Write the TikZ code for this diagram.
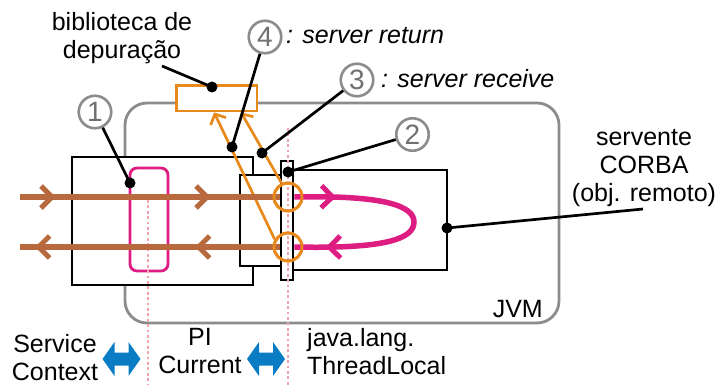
\documentclass[tikz,border=0pt]{standalone}
\usepackage{fontspec}
\setmainfont{Liberation Sans}
\usetikzlibrary{arrows.meta,decorations.markings,calc}

\definecolor{flowbrown}{HTML}{B86A3E}
\definecolor{loopmag}{HTML}{DE1D82}
\definecolor{hookorange}{HTML}{E8891C}
\definecolor{jvmgray}{HTML}{8C8C8C}
\definecolor{numgray}{HTML}{707070}
\definecolor{dotpink}{HTML}{F2A3AE}
\definecolor{ctxblue}{HTML}{0A7CC4}

\tikzset{
  blackbox/.style={draw=black, line width=2.8pt, fill=white, inner sep=0pt},
  flow/.style={draw=flowbrown, line width=6pt},
  loopline/.style={draw=loopmag, line width=5.5pt},
  hookcirc/.style={circle, draw=hookorange, line width=2.8pt, minimum size=28pt, inner sep=0pt},
  hookarrow/.style={draw=hookorange, line width=2.7pt, -{Straight Barb[length=8pt, width=17pt, line width=2.7pt]}},
  pidot/.style={draw=dotpink, line width=2.8pt, dash pattern=on 2.8pt off 2.6pt},
  leader/.style={draw=black, line width=2.7pt},
  numcirc/.style={circle, draw=jvmgray, line width=2.6pt, fill=white, text=numgray,
                  minimum size=32.5pt, inner sep=0pt, font=\fontsize{28}{30}\selectfont},
  label/.style={inner sep=0pt, align=center},
  chev/.pic={
    \draw[line width=5pt, line cap=butt, miter limit=4, pic actions] (-11,-11) -- (0,0) -- (-11,11);
  },
  dblarrow/.pic={
    \fill[ctxblue] (-19,0) -- (-7,-17) -- (-7,-6.5) -- (7,-6.5) -- (7,-17)
      -- (19,0) -- (7,17) -- (7,6.5) -- (-7,6.5) -- (-7,17) -- cycle;
  }
}

\begin{document}
\begin{tikzpicture}[x=1pt, y=-1pt, font=\fontsize{25}{28}\selectfont]
\useasboundingbox (0,0) rectangle (719,385);

% JVM boundary
\draw[jvmgray, line width=2.8pt, rounded corners=22pt] (125,103) rectangle (559,323);
\node[anchor=base east, inner sep=0pt] (jvm) at (543,317) {JVM};

% debugging library
\node[draw=hookorange, line width=2.8pt, fill=white, minimum width=80.5pt,
      minimum height=25.5pt, inner sep=0pt] (lib) at (216.75,98.25) {};

% client side, stub and servant boxes
\node[blackbox, minimum width=181pt, minimum height=128pt] (cli) at (162.5,221) {};
\node[blackbox, minimum width=47pt, minimum height=91pt] (stub) at (263.5,220.5) {};
\node[blackbox, minimum width=160pt, minimum height=100pt] (srv) at (367,220) {};
\node[blackbox, minimum width=12pt, minimum height=119pt] (tl) at (287,220.5) {};

% service context holder
\draw[loopmag, line width=2.8pt, rounded corners=7pt] (130,168) rectangle (168,271);

% thread boundaries
\draw[pidot] (148,200) -- (148,385);
\draw[pidot] (288,128) -- (288,385);

% interception points
\node[hookcirc] (oc1) at (288,197) {};
\node[hookcirc] (oc2) at (288,247) {};

% interceptor calls into the library
\draw[hookarrow] (oc2.150) -- ([xshift=39pt]lib.south west);
\draw[hookarrow] (oc1.115) -- ([xshift=66pt]lib.south west);

% request and reply flows
\coordinate (inL) at (20,197);
\coordinate (outL) at (20,247);
\draw[flow, postaction={decorate, decoration={markings,
      mark=at position 32pt with {\pic[flowbrown, transform shape]{chev};},
      mark=at position 187pt with {\pic[flowbrown, transform shape]{chev};}}}]
  (inL) -- (inL -| tl.west);
\draw[flow, postaction={decorate, decoration={markings,
      mark=at position 81pt with {\pic[flowbrown, transform shape]{chev};},
      mark=at position 241pt with {\pic[flowbrown, transform shape]{chev};}}}]
  (outL -| tl.west) -- (outL);

% servant invocation loop
\draw[loopline, postaction={decorate, decoration={markings,
      mark=at position 38pt with {\pic[loopmag, transform shape]{chev};},
      mark=at position -35pt with {\pic[loopmag, transform shape]{chev};}}}]
  (inL -| tl.east) .. controls (385,195) and (414,206) .. (414,222)
  .. controls (414,239) and (385,249) .. (outL -| tl.east);

% redraw circles over the flows
\node[hookcirc] at (288,197) {};
\node[hookcirc] at (288,247) {};

% callout anchors
\coordinate (d1) at (130,183);
\coordinate (d2) at (288,172);
\coordinate (d3) at (262,153);
\coordinate (d4) at (232,147);
\coordinate (dlib) at (212,87);
\coordinate (dsrv) at (447,228);

% numbered callouts
\node[numcirc] (c1) at (95,112) {1};
\node[numcirc] (c2) at (412.5,134.5) {2};
\node[numcirc] (c3) at (357,80) {3};
\node[numcirc] (c4) at (265,37) {4};

\draw[leader] (d1) -- (c1);
\draw[leader] (d2) -- (c2);
\draw[leader] (d3) -- (c3);
\draw[leader] (d4) -- (c4);

% labels
\node[label] (bib) at (122,38.5) {biblioteca de\\depuração};
\node[label] (servt) at (644,168.5) {servente\\CORBA\\(obj. remoto)};
\draw[leader] (dlib) -- (162,66);
\draw[leader] (dsrv) -- (643,209);

\node[anchor=base west, inner sep=0pt, font=\fontsize{25}{28}\selectfont\itshape] (ret) at (286,44) {: server return};
\node[anchor=base west, inner sep=0pt, font=\fontsize{25}{28}\selectfont\itshape] (rec) at (381,88) {: server receive};

\foreach \p in {d1,d2,d3,d4,dlib,dsrv} \fill[black] (\p) circle (5.5pt);

% context propagation
\node[label] (sc) at (55,358) {Service\\Context};
\node[label] (pic) at (200,351.5) {PI\\Current};
\node[label, align=left, anchor=west] (jtl) at (307,352) {java.lang.\\ThreadLocal};
\pic at (121.5,359) {dblarrow};
\pic at (266,359) {dblarrow};
\end{tikzpicture}
\end{document}
